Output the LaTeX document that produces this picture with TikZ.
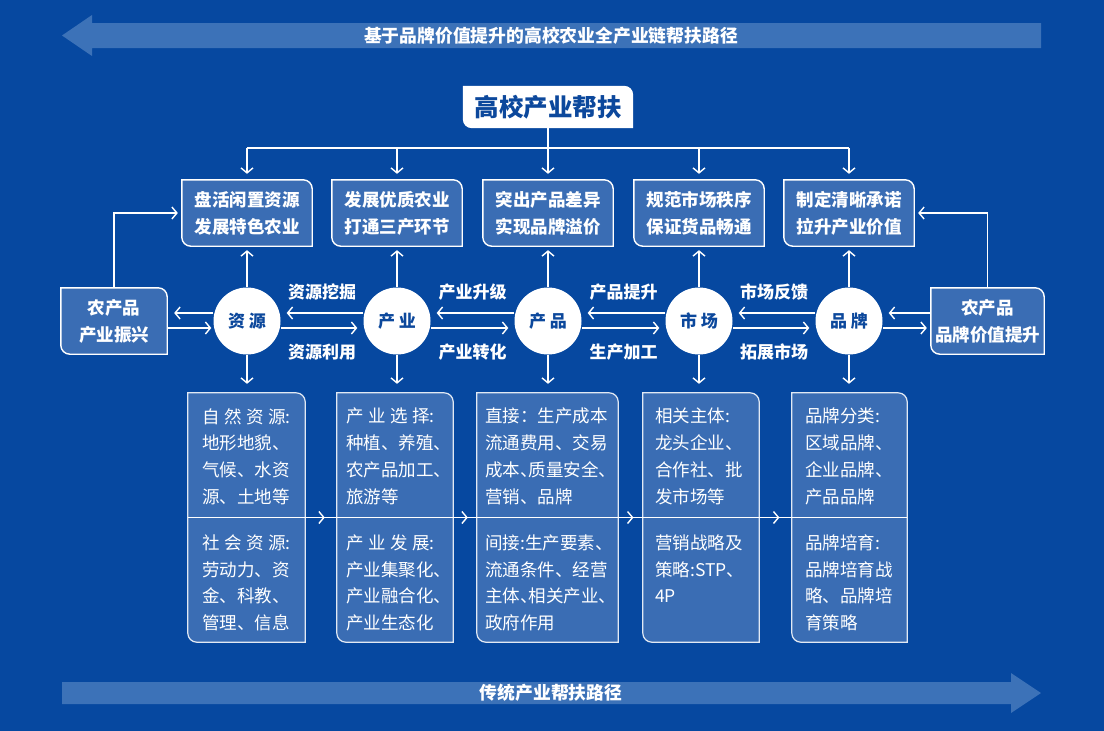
\documentclass[tikz,border=0pt]{standalone}
\usepackage{fontspec}
\setmainfont{Noto Sans CJK SC}
\usetikzlibrary{arrows.meta,calc}
\definecolor{bgblue}{RGB}{6,72,160}
\definecolor{barblue}{RGB}{60,114,184}
\definecolor{boxblue}{RGB}{58,109,180}
\definecolor{inkblue}{RGB}{12,72,156}
\newcommand{\leafpath}[2]{\path[#2] (#1.north west) [rounded corners=9pt] -- (#1.north east) [sharp corners] -- (#1.south east) [rounded corners=9pt] -- (#1.south west) [sharp corners] -- cycle;}
\newcommand{\spread}[1]{\makebox[5.05em][s]{#1}}
\newcommand{\hw}[1]{\makebox[.5em][l]{#1}}
\begin{document}
\begin{tikzpicture}[x=1pt, y=-1pt,
  line/.style={white, line width=1.4pt},
  arr/.style={line, -{Straight Barb[length=5pt,width=12pt]}},
  bar/.style={fill=barblue},
  boxline/.style={draw=white, line width=1.4pt, fill=boxblue},
  bline/.style={draw=white!85!boxblue, line width=1.2pt, fill=boxblue},
  tbox/.style={minimum width=130pt, minimum height=66pt, inner sep=0pt},
  bbox/.style={minimum height=249pt, inner sep=0pt},
  ttext/.style={text=white, align=center, inner sep=0pt, font=\bfseries\fontsize{17.5}{27}\selectfont},
  btext/.style={text=white, align=left, anchor=north west, inner sep=0pt, font=\fontsize{17.5}{26.7}\selectfont},
  circ/.style={circle, fill=white, minimum size=67pt, inner sep=0pt, text=inkblue, font=\bfseries\fontsize{17}{20}\selectfont},
  lab/.style={text=white, inner sep=0pt, font=\bfseries\fontsize{17}{20}\selectfont},
  pathlab/.style={lab, font=\bfseries\fontsize{17.8}{20}\selectfont}]
\fill[bgblue] (0,0) rectangle (1104,731);
\useasboundingbox (0,0) rectangle (1104,731);

\fill[bar] (92,23) -- (1041,23) -- (1041,48) -- (92,48) -- (92,56) -- (62,35.5) -- (92,15) -- cycle;
\node[pathlab] (newpath) at (551,36) {基于品牌价值提升的高校农业全产业链帮扶路径};
\fill[bar] (62,682) -- (1011,682) -- (1011,673) -- (1041,693) -- (1011,713) -- (1011,704) -- (62,704) -- cycle;
\node[pathlab] (oldpath) at (551,693) {传统产业帮扶路径};

\node[minimum width=170pt, minimum height=42pt, inner sep=0pt] (hub) at (548,107) {};
\leafpath{hub}{fill=white}
\node[text=inkblue, inner sep=0pt, font=\bfseries\fontsize{24.5}{28}\selectfont] (hubtext) at (hub) {高校产业帮扶};

\foreach \i/\x/\txt in {1/247/{盘活闲置资源\\发展特色农业}, 2/397/{发展优质农业\\打通三产环节}, 3/548/{突出产品差异\\实现品牌溢价}, 4/699/{规范市场秩序\\保证货品畅通}, 5/849/{制定清晰承诺\\拉升产业价值}} {
  \node[tbox] (t\i) at (\x,213) {};
  \leafpath{t\i}{boxline}
  \node[ttext] (t\i text) at (t\i) {\txt};
}

\node[circ] (c1) at (247,321) {资 源};
\node[circ] (c2) at (397,321) {产 业};
\node[circ] (c3) at (548,321) {产 品};
\node[circ] (c4) at (699,321) {市 场};
\node[circ] (c5) at (849,321) {品 牌};

\node[lab] (up12) at (322,292) {资源挖掘};
\node[lab] (dn12) at (322,352) {资源利用};
\node[lab] (up23) at (472.5,292) {产业升级};
\node[lab] (dn23) at (472.5,352) {产业转化};
\node[lab] (up34) at (623.5,292) {产品提升};
\node[lab] (dn34) at (623.5,352) {生产加工};
\node[lab] (up45) at (774,292) {市场反馈};
\node[lab] (dn45) at (774,352) {拓展市场};

\node[minimum width=106pt, minimum height=66pt, inner sep=0pt] (L) at (114,321) {};
\leafpath{L}{boxline}
\node[ttext] (Ltext) at (L) {农产品\\产业振兴};
\node[minimum width=113pt, minimum height=66pt, inner sep=0pt] (R) at (987.5,321) {};
\leafpath{R}{boxline}
\node[ttext] (Rtext) at (R) {农产品\\品牌价值提升};

\node[bbox, minimum width=117pt] (b1) at (246.5,517.5) {};
\node[bbox, minimum width=116pt] (b2) at (395,517.5) {};
\node[bbox, minimum width=141pt] (b3) at (547.5,517.5) {};
\node[bbox, minimum width=116pt] (b4) at (701,517.5) {};
\node[bbox, minimum width=115pt] (b5) at (849.5,517.5) {};
\foreach \i in {1,...,5} \leafpath{b\i}{bline}
\draw[line, line width=1.2pt] (b1.west) -- (b5.east);
\foreach \i/\j in {1/2,2/3,3/4,4/5}
  \draw[arr] (b\i.east) -- ($(b\i.east)!.62!(b\j.west)$);

\node[btext] (b1u) at (202,408) {\spread{自 然 资 源:}\\地形地貌、\\气候、水资\\源、土地等};
\node[btext] (b1d) at (202,534.5) {\spread{社 会 资 源:}\\劳动力、资\\金、科教、\\管理、信息};
\node[btext] (b2u) at (346,408) {\spread{产 业 选 择:}\\种植、养殖、\\农产品加工、\\旅游等};
\node[btext] (b2d) at (346,534.5) {\spread{产 业 发 展:}\\产业集聚化、\\产业融合化、\\产业生态化};
\node[btext] (b3u) at (485,408) {直接：生产成本\\流通费用、交易\\成本\hw{、}质量安全\hw{、}\\营销、品牌};
\node[btext] (b3d) at (485,534.5) {间接:生产要素\hw{、}\\流通条件、经营\\主体\hw{、}相关产业\hw{、}\\政府作用};
\node[btext] (b4u) at (655,408) {相关主体:\\龙头企业、\\合作社、批\\发市场等};
\node[btext] (b4d) at (655,534.5) {营销战略及\\策略:STP、\\4P};
\node[btext] (b5u) at (805,408) {品牌分类:\\区域品牌、\\企业品牌、\\产品品牌};
\node[btext] (b5d) at (805,534.5) {品牌培育:\\品牌培育战\\略、品牌培\\育策略};

\coordinate (bus) at (548,148);
\draw[line] (hub.south) -- (bus);
\draw[line] (t1.north |- bus) -- (t5.north |- bus);
\foreach \i in {1,...,5} {
  \draw[arr, shorten >=6pt] (t\i.north |- bus) -- (t\i.north);
  \draw[arr, shorten >=4pt] (c\i.north) -- (t\i.south);
  \draw[arr, shorten >=9pt] (c\i.south) -- (c\i.south |- b\i.north);
}
\foreach \i/\j in {1/2,2/3,3/4,4/5} {
  \draw[arr, shorten >=6pt] ([yshift=8pt]c\j.west) -- ([yshift=8pt]c\i.east);
  \draw[arr, shorten >=6pt] ([yshift=-7pt]c\i.east) -- ([yshift=-7pt]c\j.west);
}
\draw[arr, shorten >=7pt] ([yshift=8pt]c1.west) -- ([yshift=8pt]L.east);
\draw[arr, shorten >=2pt] ([yshift=-7pt]L.east) -- ([yshift=-7pt]c1.west);
\draw[arr, shorten >=6pt] ([yshift=8pt]R.west) -- ([yshift=8pt]c5.east);
\draw[arr, shorten >=4pt] ([yshift=-7pt]c5.east) -- ([yshift=-7pt]R.west);
\draw[arr, shorten >=4pt] (L.north) |- (t1.west);
\draw[arr, shorten >=4pt] (R.north) |- (t5.east);
\end{tikzpicture}
\end{document}
